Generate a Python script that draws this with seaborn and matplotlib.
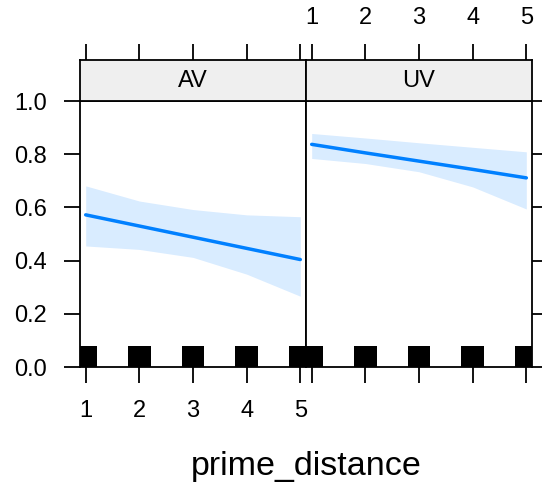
import matplotlib
matplotlib.use("Agg")

import matplotlib.pyplot as plt  # noqa: E402
import pandas as pd  # noqa: E402
import seaborn as sns  # noqa: E402

# ---------------------------------------------------------------------------
# Data
# ---------------------------------------------------------------------------
prime_distance = [1, 2, 3, 4, 5]
panels = ["AV", "UV"]

av_fit = [0.572, 0.530, 0.488, 0.446, 0.404]
av_lower = [0.455, 0.442, 0.412, 0.349, 0.266]
av_upper = [0.681, 0.624, 0.592, 0.572, 0.565]

uv_fit = [0.837, 0.805, 0.774, 0.743, 0.711]
uv_lower = [0.784, 0.765, 0.734, 0.677, 0.594]
uv_upper = [0.878, 0.861, 0.843, 0.826, 0.809]

y_ticks = [0.0, 0.2, 0.4, 0.6, 0.8, 1.0]

df = pd.concat([
    pd.DataFrame({"panel": "AV", "prime_distance": prime_distance,
                  "fit": av_fit, "lower": av_lower, "upper": av_upper}),
    pd.DataFrame({"panel": "UV", "prime_distance": prime_distance,
                  "fit": uv_fit, "lower": uv_lower, "upper": uv_upper}),
])

# ---------------------------------------------------------------------------
# Style / layout
# ---------------------------------------------------------------------------
sns.set_theme(style="white")
plt.rcParams["font.family"] = ["Liberation Sans", "DejaVu Sans"]
plt.rcParams["text.color"] = "black"

BLUE = "#0080ff"
W, H = 542, 487
fig = plt.figure(figsize=(W / 100, H / 100), dpi=100)


def fx(px):
    return px / W


def fy(py):
    return 1 - py / H


x_edges = [(80, 306), (306, 532)]
top, bottom, strip_top = 101, 367, 59.5
xlim = (0.894, 5.106)
FS = 17
tick_kw = dict(length=11.5, width=1.3, direction="out", color="black",
               labelsize=FS, labelcolor="black")

for i, name in enumerate(panels):
    x0, x1 = x_edges[i]
    ax = fig.add_axes([fx(x0), fy(bottom), (x1 - x0) / W, (bottom - top) / H])
    st = fig.add_axes([fx(x0), fy(top), (x1 - x0) / W, (top - strip_top) / H])

    sub = df[df["panel"] == name]
    ax.fill_between(sub["prime_distance"], sub["lower"], sub["upper"],
                    color=BLUE, alpha=0.15, lw=0)
    sns.lineplot(data=sub, x="prime_distance", y="fit", color=BLUE,
                 lw=2.5, estimator=None, ax=ax)
    # rug marks at the observed prime_distance values
    ax.bar(prime_distance, [0.08] * len(prime_distance), width=0.42,
           color="black", lw=0)

    ax.set_xlim(*xlim)
    ax.set_ylim(0, 1)
    ax.set_xlabel("")
    ax.set_ylabel("")
    ax.set_xticks(prime_distance)
    ax.set_xticklabels([str(v) for v in prime_distance])
    ax.set_yticks(y_ticks)
    ax.set_yticklabels([f"{v:.1f}" for v in y_ticks])
    for sp in ax.spines.values():
        sp.set_color("black")
        sp.set_linewidth(1.3)

    ax.tick_params(axis="x", bottom=True, top=False, labelbottom=(i == 0),
                   pad=12.5, **tick_kw)
    if i == 0:
        ax.tick_params(axis="y", left=True, right=False, labelleft=True,
                       labelright=False, pad=12, **tick_kw)
    else:
        ax.tick_params(axis="y", left=False, right=True, labelleft=False,
                       labelright=False, **tick_kw)

    # strip
    st.set_facecolor("#efefef")
    st.set_xlim(*xlim)
    st.set_ylim(0, 1)
    st.set_yticks([])
    st.set_xticks(prime_distance)
    st.set_xticklabels([str(v) for v in prime_distance])
    st.xaxis.tick_top()
    st.tick_params(axis="x", top=True, bottom=False, labeltop=(i == 1),
                   labelbottom=False, pad=10.8, **tick_kw)
    for sp in st.spines.values():
        sp.set_color("black")
        sp.set_linewidth(1.3)
    st.text(0.5, 0.47, name, transform=st.transAxes, ha="center",
            va="center", fontsize=FS)

fig.text(fx(306), fy(475), "prime_distance", ha="center", va="baseline",
         fontsize=24.5, color="black")

fig.savefig("out.png", dpi=100)
plt.close(fig)
